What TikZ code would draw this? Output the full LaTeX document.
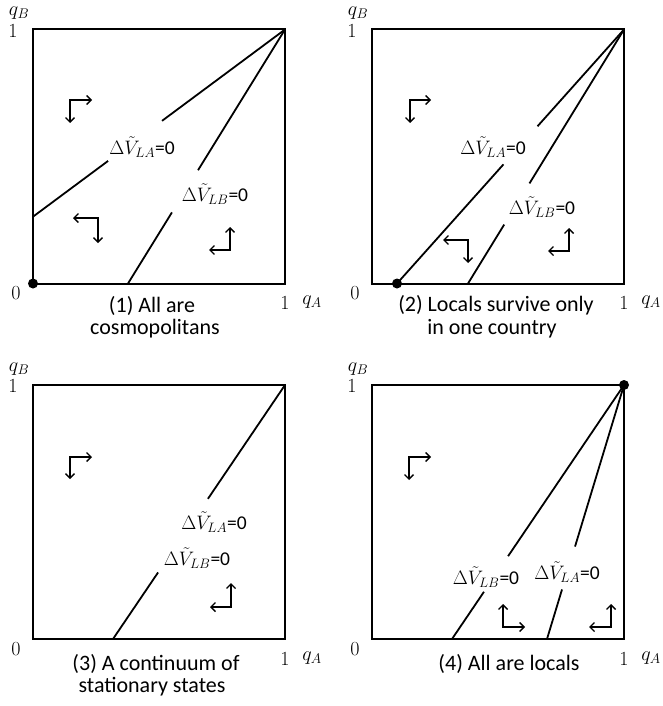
\RequirePackage{fix-cm}
\documentclass[tikz,border=0pt]{standalone}
\usepackage{fontspec}
\setmainfont{Carlito}
\usetikzlibrary{arrows.meta,calc}
\tikzset{
  box/.style={line width=2pt},
  curve/.style={line width=1.8pt},
  flowarr/.style={line width=1.4pt,
    {Straight Barb[length=4.5pt,width=9pt]}-{Straight Barb[length=4.5pt,width=9pt]}},
  lbl/.style={font=\fontsize{19.5}{22}\selectfont, inner sep=0pt},
  axis/.style={font=\fontsize{20}{22}\selectfont, inner sep=0pt},
  captxt/.style={font=\fontsize{22}{22}\selectfont, inner sep=0pt, anchor=base},
  dot/.style={circle, fill, inner sep=0pt, minimum size=10pt}
}
\newcommand\panelframe{%
  \coordinate (o) at (0,254);
  \coordinate (tr) at (252,0);
  \draw[box] (0,0) rectangle (252,254);
  \node[axis] (qb) at (-14,-16) {$q_B$};
  \node[axis] (one) at (-20,1.5) {$1$};
  \node[axis] (zero) at (-17,264) {$0$};
  \node[axis] (onea) at (252,274) {$1$};
  \node[axis] (qa) at (279,273) {$q_A$};
}
% #1 start, #2 end, #3 t1, #4 t2
\newcommand\gapline[4]{%
  \draw[curve] (#1) -- ($(#1)!#3!(#2)$);
  \draw[curve] ($(#1)!#4!(#2)$) -- (#2);
}
% corner, end1, end2
\newcommand\flowpair[3]{\draw[flowarr] (#2) -- (#1) -- (#3);}
\begin{document}
\begin{tikzpicture}[x=1pt,y=-1pt]
\useasboundingbox (0,0) rectangle (663,706);

% ---------- Panel 1 ----------
\begin{scope}[shift={(33,29.5)}]
  \panelframe
  \coordinate (la1) at (0,187.2);
  \coordinate (lb1) at (95,254);
  \gapline{la1}{tr}{0.298}{0.512}
  \gapline{lb1}{tr}{0.280}{0.446}
  \node[lbl] (tla1) at (109,117.5) {$\Delta\tilde{V}_{LA}$=0};
  \node[lbl] (tlb1) at (182,164.5) {$\Delta\tilde{V}_{LB}$=0};
  \coordinate (c1a) at (37,70.5);  \coordinate (c1ar) at (59,70.5);  \coordinate (c1ad) at (37,93.5);
  \coordinate (c1b) at (65,188.5); \coordinate (c1bl) at (40,188.5); \coordinate (c1bd) at (65,213.5);
  \coordinate (c1c) at (197,220.5);\coordinate (c1cu) at (197,197.5);\coordinate (c1cl) at (176,220.5);
  \flowpair{c1a}{c1ar}{c1ad}
  \flowpair{c1b}{c1bl}{c1bd}
  \flowpair{c1c}{c1cu}{c1cl}
  \node[dot] (d1) at (o) {};
\end{scope}

% ---------- Panel 2 ----------
\begin{scope}[shift={(372,29.5)}]
  \panelframe
  \coordinate (la2) at (25,254);
  \coordinate (lb2) at (96,254);
  \gapline{la2}{tr}{0.469}{0.619}
  \gapline{lb2}{tr}{0.232}{0.394}
  \node[lbl] (tla2) at (121,117.5) {$\Delta\tilde{V}_{LA}$=0};
  \node[lbl] (tlb2) at (170,177.5) {$\Delta\tilde{V}_{LB}$=0};
  \coordinate (c2a) at (38,70.5);  \coordinate (c2ar) at (59,70.5);  \coordinate (c2ad) at (38,93.5);
  \coordinate (c2b) at (96,210.5); \coordinate (c2bl) at (71,210.5); \coordinate (c2bd) at (96,233.5);
  \coordinate (c2c) at (197,221.5);\coordinate (c2cu) at (197,198.5);\coordinate (c2cl) at (176,221.5);
  \flowpair{c2a}{c2ar}{c2ad}
  \flowpair{c2b}{c2bl}{c2bd}
  \flowpair{c2c}{c2cu}{c2cl}
  \node[dot] (d2) at (la2) {};
\end{scope}

% ---------- Panel 3 ----------
\begin{scope}[shift={(33,385)}]
  \panelframe
  \coordinate (l3) at (80,254);
  \gapline{l3}{tr}{0.262}{0.552}
  \node[lbl] (tla3) at (181,137) {$\Delta\tilde{V}_{LA}$=0};
  \node[lbl] (tlb3) at (164,173) {$\Delta\tilde{V}_{LB}$=0};
  \coordinate (c3a) at (37,72);  \coordinate (c3ar) at (59,72);  \coordinate (c3ad) at (37,94);
  \coordinate (c3c) at (198,222);\coordinate (c3cu) at (198,198);\coordinate (c3cl) at (177,222);
  \flowpair{c3a}{c3ar}{c3ad}
  \flowpair{c3c}{c3cu}{c3cl}
\end{scope}

% ---------- Panel 4 ----------
\begin{scope}[shift={(372,385)}]
  \panelframe
  \coordinate (lb4) at (80,254);
  \coordinate (la4) at (175,254);
  \gapline{lb4}{tr}{0.186}{0.326}
  \gapline{la4}{tr}{0.195}{0.364}
  \node[lbl] (tlb4) at (114,192) {$\Delta\tilde{V}_{LB}$=0};
  \node[lbl] (tla4) at (195,187) {$\Delta\tilde{V}_{LA}$=0};
  \coordinate (c4a) at (37,72);  \coordinate (c4ar) at (59,72);  \coordinate (c4ad) at (37,95);
  \coordinate (c4b) at (131,242);\coordinate (c4bu) at (131,219);\coordinate (c4br) at (153,242);
  \coordinate (c4c) at (239,242);\coordinate (c4cu) at (239,219);\coordinate (c4cl) at (217,242);
  \flowpair{c4a}{c4ar}{c4ad}
  \flowpair{c4b}{c4bu}{c4br}
  \flowpair{c4c}{c4cu}{c4cl}
  \node[dot] (d4) at (tr) {};
\end{scope}

% ---------- Captions ----------
\node[captxt] (cap1a) at (152,312) {(1) All are};
\node[captxt] (cap1b) at (155,334) {cosmopolitans};
\node[captxt] (cap2a) at (496,311) {(2) Locals survive only};
\node[captxt] (cap2b) at (492,334) {in one country};
\node[captxt] (cap3a) at (156,670) {(3) A continuum of};
\node[captxt] (cap3b) at (152,692) {stationary states};
\node[captxt] (cap4a) at (509,670) {(4) All are locals};
\end{tikzpicture}
\end{document}
